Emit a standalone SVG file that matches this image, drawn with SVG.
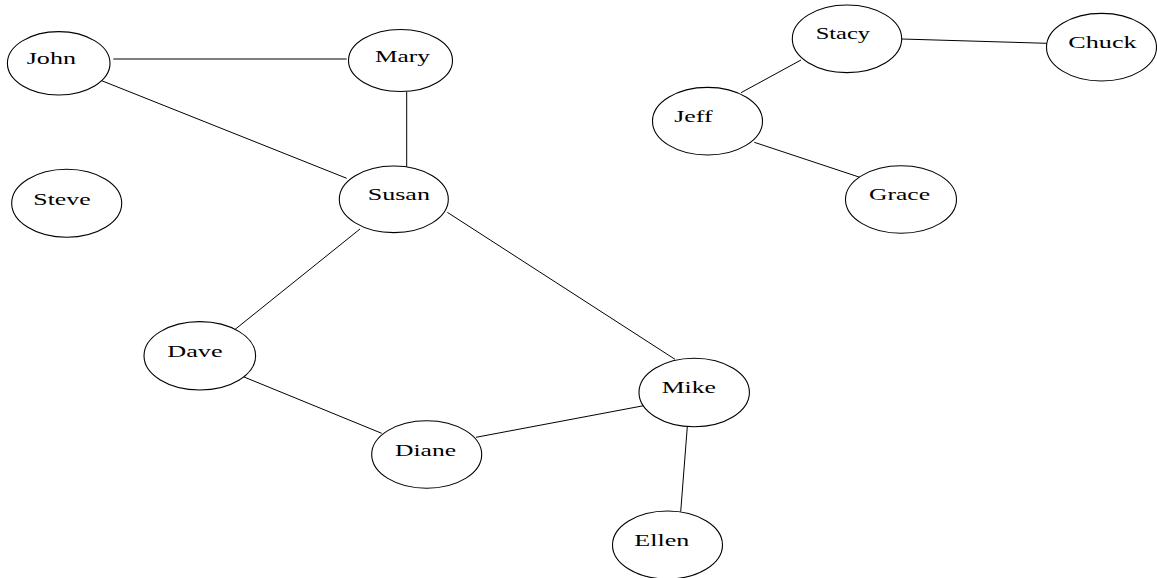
<svg xmlns="http://www.w3.org/2000/svg" width="1157" height="578" viewBox="0 0 1157 578">
  <style>
    .node ellipse { fill: #ffffff; stroke: #000000; stroke-width: 1.1; }
    .node text { font-family: "Liberation Serif", "Times New Roman", serif; font-size: 17px; fill: #000000; }
    .edges line { stroke: #000000; stroke-width: 1; }
  </style>
  <rect width="1157" height="578" fill="#ffffff"/>

  <g class="edges" id="edges">
    <line x1="113.3" y1="59" x2="346.7" y2="59"/>
    <line x1="101.7" y1="80.7" x2="346.7" y2="178.3"/>
    <line x1="406.7" y1="91.7" x2="406.7" y2="166.7"/>
    <line x1="360" y1="229" x2="234.3" y2="330"/>
    <line x1="447.3" y1="212.3" x2="675" y2="359.3"/>
    <line x1="243.3" y1="376.7" x2="381.7" y2="433.3"/>
    <line x1="476" y1="437.3" x2="647.3" y2="405"/>
    <line x1="687.7" y1="421.7" x2="680.7" y2="511.7"/>
    <line x1="901.7" y1="39" x2="1046.7" y2="43.3"/>
    <line x1="801" y1="60" x2="741" y2="92.7"/>
    <line x1="754.3" y1="142.3" x2="861" y2="177.7"/>
  </g>

  <g class="node" id="john">
    <ellipse cx="58.7" cy="63.3" rx="51.3" ry="31.7"/>
    <text x="26.7" y="64.3" textLength="49.3" lengthAdjust="spacingAndGlyphs">John</text>
  </g>
  <g class="node" id="mary">
    <ellipse cx="400.5" cy="60.5" rx="52" ry="31"/>
    <text x="375" y="62.3" textLength="55" lengthAdjust="spacingAndGlyphs">Mary</text>
  </g>
  <g class="node" id="susan">
    <ellipse cx="393.8" cy="199.3" rx="54.5" ry="33.3"/>
    <text x="367.7" y="200" textLength="62.3" lengthAdjust="spacingAndGlyphs">Susan</text>
  </g>
  <g class="node" id="steve">
    <ellipse cx="66.7" cy="203.3" rx="55" ry="34"/>
    <text x="33.3" y="205" textLength="57.3" lengthAdjust="spacingAndGlyphs">Steve</text>
  </g>
  <g class="node" id="stacy">
    <ellipse cx="847" cy="38.8" rx="54.7" ry="33.8"/>
    <text x="815.7" y="39.3" textLength="54.3" lengthAdjust="spacingAndGlyphs">Stacy</text>
  </g>
  <g class="node" id="chuck">
    <ellipse cx="1101.5" cy="47.2" rx="55" ry="33.8"/>
    <text x="1068.3" y="47.7" textLength="68.3" lengthAdjust="spacingAndGlyphs">Chuck</text>
  </g>
  <g class="node" id="jeff">
    <ellipse cx="707.5" cy="121.2" rx="55" ry="33.8"/>
    <text x="674.3" y="121.7" textLength="38.3" lengthAdjust="spacingAndGlyphs">Jeff</text>
  </g>
  <g class="node" id="grace">
    <ellipse cx="901" cy="199.5" rx="55.5" ry="33.8"/>
    <text x="869" y="200" textLength="61" lengthAdjust="spacingAndGlyphs">Grace</text>
  </g>
  <g class="node" id="dave">
    <ellipse cx="199.8" cy="355.8" rx="55.8" ry="34.2"/>
    <text x="167.3" y="356.7" textLength="55.3" lengthAdjust="spacingAndGlyphs">Dave</text>
  </g>
  <g class="node" id="diane">
    <ellipse cx="426.7" cy="454.5" rx="55" ry="33.8"/>
    <text x="395" y="455.7" textLength="61" lengthAdjust="spacingAndGlyphs">Diane</text>
  </g>
  <g class="node" id="mike">
    <ellipse cx="694.2" cy="392.5" rx="55.2" ry="34.2"/>
    <text x="661.7" y="393.3" textLength="54.3" lengthAdjust="spacingAndGlyphs">Mike</text>
  </g>
  <g class="node" id="ellen">
    <ellipse cx="667.5" cy="545" rx="55" ry="34"/>
    <text x="634.3" y="545.7" textLength="55" lengthAdjust="spacingAndGlyphs">Ellen</text>
  </g>
</svg>
